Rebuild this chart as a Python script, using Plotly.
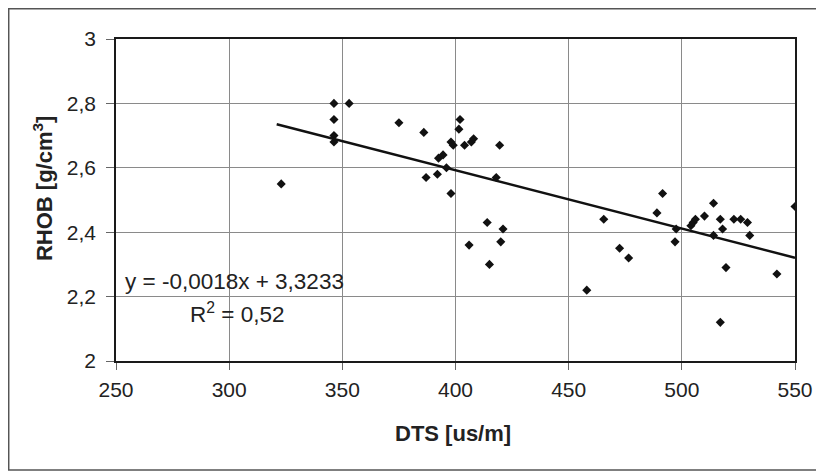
import numpy as np
import plotly.graph_objects as go

# Data
dts = [323, 346.3, 353, 346.3, 346.3, 346.3, 375, 386, 402, 401.5, 398, 399, 404, 407,
       408, 419.5, 392.5, 394.5, 396, 387, 392, 418, 398, 414, 421, 406, 420, 415,
       458, 465.5, 472.5, 476.5, 489, 491.5, 497.5, 497, 504, 505, 506, 510, 514,
       517, 518, 514, 523, 526, 529, 530, 550, 519.5, 517, 542]
rhob = [2.55, 2.80, 2.80, 2.75, 2.70, 2.68, 2.74, 2.71, 2.75, 2.72, 2.68, 2.67, 2.67, 2.68,
        2.69, 2.67, 2.63, 2.64, 2.60, 2.57, 2.58, 2.57, 2.52, 2.43, 2.41, 2.36, 2.37, 2.30,
        2.22, 2.44, 2.35, 2.32, 2.46, 2.52, 2.41, 2.37, 2.42, 2.43, 2.44, 2.45, 2.49,
        2.44, 2.41, 2.39, 2.44, 2.44, 2.43, 2.39, 2.48, 2.29, 2.12, 2.27]

x_ticks = [250, 300, 350, 400, 450, 500, 550]
y_ticks = [2, 2.2, 2.4, 2.6, 2.8, 3]

equation_text = "y = -0,0018x + 3,3233"
r2_text = "R<sup>2</sup> = 0,52"
x_title = "DTS [us/m]"
y_title = "RHOB [g/cm<sup>3</sup>]"

# Linear trend fitted to the data
slope, intercept = np.polyfit(dts, rhob, 1)
trend_x = np.array([min(dts) - 2, max(dts)])
trend_y = slope * trend_x + intercept

FONT = "Liberation Sans, Arial, sans-serif"

fig = go.Figure()
fig.add_trace(go.Scatter(
    x=dts, y=rhob, mode="markers",
    marker=dict(symbol="diamond", size=7, color="#111111", line=dict(width=0)),
    showlegend=False, hoverinfo="x+y"))
fig.add_trace(go.Scatter(
    x=trend_x, y=trend_y, mode="lines",
    line=dict(color="#111111", width=2.5), showlegend=False, hoverinfo="skip"))

axis_common = dict(
    showgrid=True, gridcolor="#8a8a8a", gridwidth=1,
    showline=True, linecolor="#1a1a1a", linewidth=1.5, mirror=True,
    ticks="outside", tickcolor="#666666", tickwidth=1,
    tickfont=dict(family=FONT, size=21, color="#222222"),
    zeroline=False,
)

fig.update_xaxes(range=[250, 550], tickvals=x_ticks, ticklen=7,
                 ticklabelstandoff=2, **axis_common)
fig.update_yaxes(range=[2, 3], tickvals=y_ticks, ticklen=8,
                 ticklabelstandoff=6, **axis_common)

fig.update_layout(
    width=816, height=464, autosize=False,
    margin=dict(l=108, r=29, t=31, b=111),
    paper_bgcolor="white", plot_bgcolor="white",
    separators=",.",
    font=dict(family=FONT, color="#222222"),
    annotations=[
        dict(text=equation_text, x=253, y=2.248, xref="x", yref="y",
             xanchor="left", yanchor="middle", showarrow=False,
             font=dict(family=FONT, size=22.5, color="#222222")),
        dict(text=r2_text, x=282, y=2.148, xref="x", yref="y",
             xanchor="left", yanchor="middle", showarrow=False,
             font=dict(family=FONT, size=22.5, color="#222222")),
        dict(text="<b>" + x_title + "</b>", x=0.496, y=-0.224, xref="paper", yref="paper",
             xanchor="center", yanchor="middle", showarrow=False,
             font=dict(family=FONT, size=22, color="#222222")),
        dict(text="<b>" + y_title + "</b>", x=-0.1075, y=0.534, xref="paper", yref="paper",
             xanchor="center", yanchor="middle", showarrow=False, textangle=-90,
             font=dict(family=FONT, size=22, color="#222222")),
    ],
    shapes=[
        dict(type="rect", xref="paper", yref="paper",
             x0=-0.158, x1=1.06, y0=-0.3385, y1=1.0939,
             line=dict(color="#555555", width=1.5), fillcolor="rgba(0,0,0,0)",
             layer="below"),
    ],
)

fig.write_html("out.html")
